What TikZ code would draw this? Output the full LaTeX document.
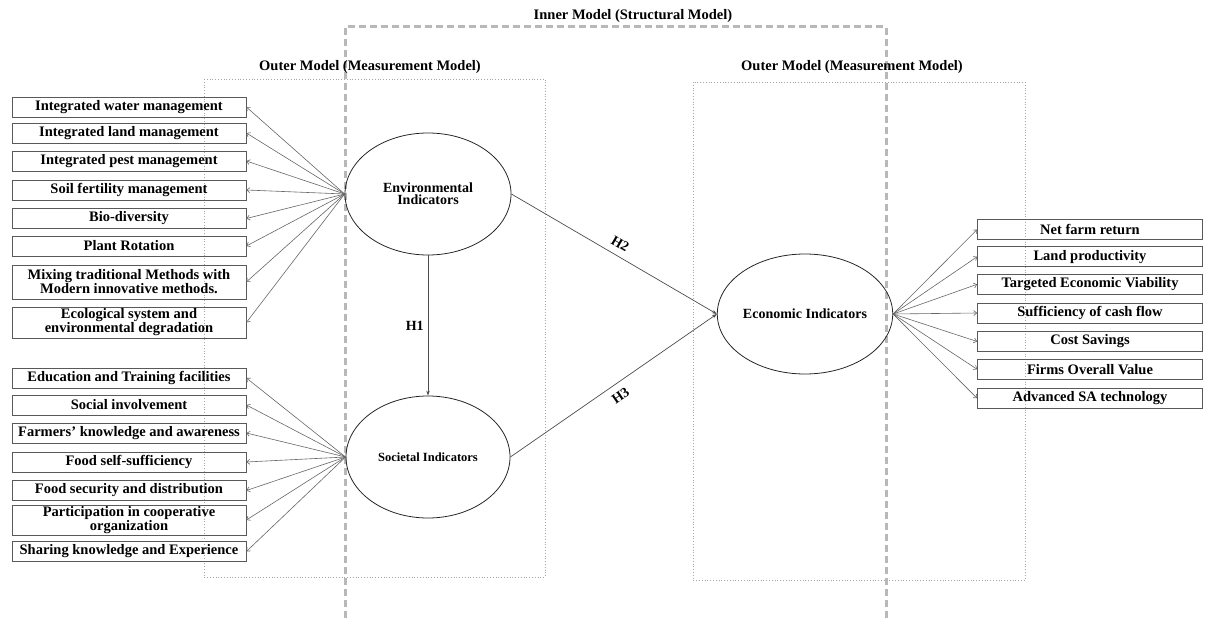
\documentclass[tikz,border=0pt]{standalone}
\usepackage{fontspec}
\setmainfont{Liberation Serif}
\usetikzlibrary{arrows.meta,shapes.geometric}
\begin{document}
\begin{tikzpicture}[x=1pt,y=-1pt,
  ind/.style={draw=black!65, line width=0.7pt, minimum width=234pt, minimum height=20pt,
    inner sep=0pt, align=center, font=\fontsize{14.5}{14}\selectfont\bfseries},
  rind/.style={ind, minimum width=225pt},
  lat/.style={ellipse, draw=black!85, line width=0.8pt, inner sep=0pt, align=center,
    font=\fontsize{14}{12}\selectfont\bfseries},
  loading/.style={draw=black!60, line width=0.6pt, -{Straight Barb[length=3pt,width=5pt]}},
  struct/.style={draw=black!70, line width=0.7pt, -{Stealth[length=5pt,width=3.5pt]}},
  ttl/.style={font=\fontsize{14.5}{16}\selectfont\bfseries, inner sep=0pt},
  hyp/.style={font=\fontsize{14}{16}\selectfont\bfseries, inner sep=0pt},
  outerbox/.style={draw=black!35, dotted, line width=0.8pt},
  innerbox/.style={draw=black!28, line width=3pt, dash pattern=on 7pt off 4pt}]
\useasboundingbox (0,0) rectangle (1216,618);

% model frames
\draw[outerbox] (204,79) rectangle (545,577);
\draw[outerbox] (693,82) rectangle (1025,580);
\draw[innerbox] (345,618) -- (345,27) -- (886,27) -- (886,618);
\node[ttl] (t1) at (370,67) {Outer Model (Measurement Model)};
\node[ttl] (t2) at (852,67) {Outer Model (Measurement Model)};
\node[ttl] (t3) at (633,16) {Inner Model (Structural Model)};

% latent variables
\node[lat, minimum width=166pt, minimum height=122pt] (env) at (428,194) {Environmental\\Indicators};
\node[lat, minimum width=164pt, minimum height=122pt, font=\fontsize{12.5}{13}\selectfont\bfseries] (soc) at (428,457) {Societal Indicators};
\node[lat, minimum width=164pt, minimum height=120pt] (eco) at (805,314) {Economic Indicators};

% environmental indicators
\node[ind] (e1) at (129,107) {Integrated water management};
\node[ind] (e2) at (129,133) {Integrated land management};
\node[ind] (e3) at (129,161) {Integrated pest management};
\node[ind] (e4) at (129,190) {Soil fertility management};
\node[ind] (e5) at (129,218.5) {Bio-diversity};
\node[ind] (e6) at (129,246) {Plant Rotation};
\node[ind, minimum height=34pt] (e7) at (129,282) {Mixing traditional Methods with\\Modern innovative methods.};
\node[ind, minimum height=31pt] (e8) at (129,322.5) {Ecological system and\\environmental degradation};

% societal indicators
\node[ind] (s1) at (129,378) {Education and Training facilities};
\node[ind] (s2) at (129,405) {Social involvement};
\node[ind] (s3) at (129,433) {Farmers' knowledge and awareness};
\node[ind] (s4) at (129,462) {Food self-sufficiency};
\node[ind] (s5) at (129,490.5) {Food security and distribution};
\node[ind, minimum height=30pt] (s6) at (129,520) {Participation in cooperative\\organization};
\node[ind] (s7) at (129,551.5) {Sharing knowledge and Experience};

% economic indicators
\node[rind] (c1) at (1090,229.5) {Net farm return};
\node[rind] (c2) at (1090,256.7) {Land productivity};
\node[rind] (c3) at (1090,284.3) {Targeted Economic Viability};
\node[rind] (c4) at (1090,313) {Sufficiency of cash flow};
\node[rind] (c5) at (1090,341.5) {Cost Savings};
\node[rind] (c6) at (1090,369.3) {Firms Overall Value};
\node[rind] (c7) at (1090,398.3) {Advanced SA technology};

% loadings
\foreach \i in {1,...,8} \draw[loading] (env.west) -- (e\i.east);
\foreach \i in {1,...,7} \draw[loading] (soc.west) -- (s\i.east);
\foreach \i in {1,...,7} \draw[loading] (eco.east) -- (c\i.west);

% structural paths
\draw[struct] (env.south) -- node[hyp, left=4pt] {H1} (soc.north);
\draw[struct] (env.east) -- node[hyp, sloped, above=7pt] {H2} (eco.west);
\draw[struct] (soc.east) -- node[hyp, sloped, below=7pt] {H3} (eco.west);
\end{tikzpicture}
\end{document}
